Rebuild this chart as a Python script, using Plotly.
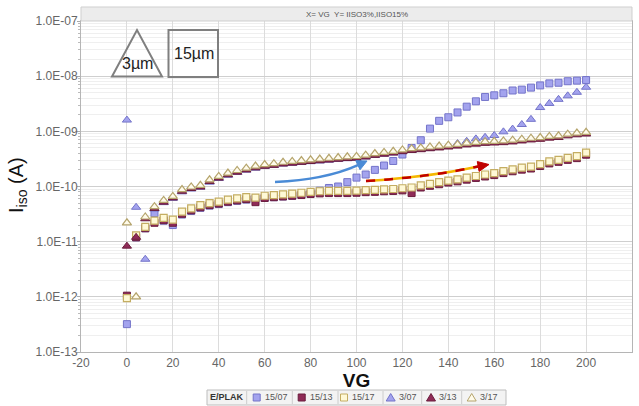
import plotly.graph_objects as go

# ---------------- data ----------------
vg = [0, 4, 8, 12, 16, 20, 24, 28, 32, 36, 40, 44, 48, 52, 56, 60, 64, 68, 72, 76,
      80, 84, 88, 92, 96, 100, 104, 108, 112, 116, 120, 124, 128, 132, 136, 140, 144,
      148, 152, 156, 160, 164, 168, 172, 176, 180, 184, 188, 192, 196, 200]

s15_07 = [3.2e-13, 1.2e-11, 1.75e-11, 3.3e-11, 2.4e-11, 2.0e-11, 3.1e-11, 3.6e-11, 4.1e-11,
          4.5e-11, 4.8e-11, 5.2e-11, 5.5e-11, 5.8e-11, 6.0e-11, 6.2e-11, 6.4e-11, 6.6e-11,
          6.8e-11, 7.2e-11, 7.6e-11, 8.4e-11, 9.4e-11, 1.0e-10, 1.2e-10, 1.45e-10, 1.65e-10,
          2.0e-10, 2.4e-10, 2.9e-10, 3.8e-10, 5.0e-10, 6.9e-10, 1.12e-9, 1.55e-9, 1.8e-9,
          2.2e-9, 2.8e-9, 3.5e-9, 4.2e-9, 4.5e-9, 4.9e-9, 5.5e-9, 5.7e-9, 6.2e-9, 6.8e-9,
          7.4e-9, 7.6e-9, 8.1e-9, 8.3e-9, 8.5e-9]

s15_13 = [1.05e-12, 1.2e-11, 1.75e-11, 2.2e-11, 2.45e-11, 2.2e-11, 3.2e-11, 3.7e-11, 4.2e-11,
          4.6e-11, 4.9e-11, 5.3e-11, 5.6e-11, 5.9e-11, 5.2e-11, 6.2e-11, 6.4e-11, 6.6e-11,
          6.8e-11, 7.0e-11, 7.3e-11, 7.5e-11, 7.6e-11, 7.6e-11, 7.6e-11, 7.7e-11, 7.9e-11,
          8.0e-11, 8.2e-11, 8.3e-11, 8.5e-11, 7.6e-11, 9.6e-11, 1.03e-10, 1.1e-10, 1.18e-10,
          1.24e-10, 1.33e-10, 1.43e-10, 1.52e-10, 1.61e-10, 1.75e-10, 1.89e-10, 2.02e-10,
          2.12e-10, 2.35e-10, 2.62e-10, 2.8e-10, 3.04e-10, 3.27e-10, 3.77e-10]

s15_17 = [0.95e-12, 1.3e-11, 1.85e-11, 2.4e-11, 2.7e-11, 2.5e-11, 3.5e-11, 4.0e-11, 4.6e-11,
          5.0e-11, 5.3e-11, 5.8e-11, 6.1e-11, 6.4e-11, 6.3e-11, 6.8e-11, 7.0e-11, 7.2e-11,
          7.4e-11, 7.7e-11, 8.0e-11, 8.2e-11, 8.3e-11, 8.3e-11, 8.3e-11, 8.4e-11, 8.6e-11,
          8.7e-11, 8.9e-11, 9.0e-11, 9.3e-11, 9.6e-11, 1.05e-10, 1.12e-10, 1.2e-10, 1.28e-10,
          1.35e-10, 1.45e-10, 1.55e-10, 1.65e-10, 1.75e-10, 1.9e-10, 2.05e-10, 2.2e-10,
          2.3e-10, 2.55e-10, 2.85e-10, 3.05e-10, 3.3e-10, 3.55e-10, 4.1e-10]

s3_07 = [1.6e-9, 4.2e-11, 4.8e-12, 3.9e-11, 5.1e-11, 6.1e-11, 8.0e-11, 9.0e-11, 9.7e-11,
         1.2e-10, 1.4e-10, 1.6e-10, 1.8e-10, 1.98e-10, 2.15e-10, 2.3e-10, 2.4e-10, 2.55e-10,
         2.63e-10, 2.72e-10, 2.82e-10, 2.9e-10, 3.0e-10, 3.1e-10, 3.2e-10, 3.25e-10, 3.42e-10,
         3.65e-10, 3.85e-10, 4.05e-10, 4.3e-10, 4.5e-10, 4.7e-10, 4.9e-10, 5.1e-10, 5.5e-10,
         6.0e-10, 6.6e-10, 7.3e-10, 7.8e-10, 8.4e-10, 9.8e-10, 1.1e-9, 1.33e-9, 1.65e-9,
         2.7e-9, 3.2e-9, 3.8e-9, 4.4e-9, 5.1e-9, 6.3e-9]

s3_13 = [8.3e-12, 1.2e-11, 2.6e-11, 4.0e-11, 5.2e-11, 6.2e-11, 8.2e-11, 9.2e-11, 9.8e-11,
         1.23e-10, 1.42e-10, 1.63e-10, 1.82e-10, 2.0e-10, 2.18e-10, 2.33e-10, 2.42e-10,
         2.56e-10, 2.65e-10, 2.74e-10, 2.84e-10, 2.93e-10, 3.02e-10, 3.12e-10, 3.21e-10,
         3.26e-10, 3.44e-10, 3.67e-10, 3.86e-10, 4.05e-10, 4.28e-10, 4.5e-10, 4.65e-10,
         4.84e-10, 5.0e-10, 5.2e-10, 5.4e-10, 5.67e-10, 5.86e-10, 6.05e-10, 6.14e-10,
         6.23e-10, 6.42e-10, 6.7e-10, 6.98e-10, 7.16e-10, 7.53e-10, 7.72e-10, 8.28e-10,
         8.65e-10, 8.93e-10]

s3_17 = [2.2e-11, 1.0e-12, 2.8e-11, 4.3e-11, 5.6e-11, 6.6e-11, 8.8e-11, 9.8e-11, 1.05e-10,
         1.32e-10, 1.52e-10, 1.75e-10, 1.95e-10, 2.15e-10, 2.35e-10, 2.5e-10, 2.6e-10,
         2.75e-10, 2.85e-10, 2.95e-10, 3.05e-10, 3.15e-10, 3.25e-10, 3.35e-10, 3.45e-10,
         3.5e-10, 3.7e-10, 3.95e-10, 4.15e-10, 4.35e-10, 4.6e-10, 4.85e-10, 5.0e-10, 5.2e-10,
         5.4e-10, 5.6e-10, 5.8e-10, 6.1e-10, 6.3e-10, 6.5e-10, 6.6e-10, 6.7e-10, 6.9e-10,
         7.2e-10, 7.5e-10, 7.7e-10, 8.1e-10, 8.3e-10, 8.9e-10, 9.3e-10, 9.6e-10]

series_names = ["15/07", "15/13", "15/17", "3/07", "3/13", "3/17"]
x_ticks = [-20, 0, 20, 40, 60, 80, 100, 120, 140, 160, 180, 200, 220]
y_exponents = [-13, -12, -11, -10, -9, -8, -7]
y_ticklabels = ["1.0E-13", "1.0E-12", "1.0E-11", "1.0E-10", "1.0E-09", "1.0E-08", "1.0E-07"]

# ---------------- styles ----------------
FONT = "Liberation Sans, Arial, sans-serif"
styles = {
    "15/07": dict(symbol="square", size=7, color="#a3a3ee", line=dict(color="#7474c9", width=1)),
    "15/13": dict(symbol="square", size=7, color="#8f2b57", line=dict(color="#6a1c3c", width=1)),
    "15/17": dict(symbol="square", size=7, color="#fff9d6", line=dict(color="#c4ad62", width=1.2)),
    "3/07": dict(symbol="triangle-up", size=8, color="#a3a3ee", line=dict(color="#7474c9", width=1)),
    "3/13": dict(symbol="triangle-up", size=8, color="#8f2b57", line=dict(color="#6a1c3c", width=1)),
    "3/17": dict(symbol="triangle-up", size=8, color="#fffbea", line=dict(color="#b5a46c", width=1.2)),
}
data_map = {"15/07": s15_07, "15/13": s15_13, "15/17": s15_17,
            "3/07": s3_07, "3/13": s3_13, "3/17": s3_17}

fig = go.Figure()
for name in series_names:
    fig.add_trace(go.Scatter(x=vg, y=data_map[name], mode="markers", name=name,
                             marker=styles[name], showlegend=False))

# ---------------- geometry helpers (pixel -> paper) ----------------
W, H = 639, 406
PL, PR, PT, PB = 81, 632, 21, 352


def px(x):
    return (x - PL) / (PR - PL)


def py(y):
    return (PB - y) / (PB - PT)


shapes = []
annotations = []

# title band above the plot
shapes.append(dict(type="rect", xref="paper", yref="paper", x0=0, x1=1, y0=py(21), y1=py(7),
                   fillcolor="#ececec", line=dict(color="#cfcfcf", width=1), layer="above"))
annotations.append(dict(xref="paper", yref="paper", x=0.5, y=py(14), text="X= VG  Y= IISO3%,IISO15%",
                        showarrow=False, font=dict(family=FONT, size=8, color="#555555"),
                        xanchor="center", yanchor="middle"))

# triangle "3µm" and square "15µm" drawings
shapes.append(dict(type="path", xref="paper", yref="paper",
                   path=f"M {px(112)},{py(76.5)} L {px(137)},{py(30)} L {px(162)},{py(76.5)} Z",
                   line=dict(color="#7f7f7f", width=2), fillcolor="rgba(255,255,255,0)"))
annotations.append(dict(xref="paper", yref="paper", x=px(137.5), y=py(63), text="3µm", showarrow=False,
                        font=dict(family=FONT, size=16, color="#222222"), xanchor="center", yanchor="middle"))
shapes.append(dict(type="rect", xref="paper", yref="paper", x0=px(168.5), x1=px(218), y0=py(77), y1=py(30),
                   line=dict(color="#7f7f7f", width=2), fillcolor="rgba(255,255,255,0)"))
annotations.append(dict(xref="paper", yref="paper", x=px(194), y=py(54), text="15µm", showarrow=False,
                        font=dict(family=FONT, size=16, color="#222222"), xanchor="center", yanchor="middle"))


def arrow_head(tip, back, length, half, color):
    import math
    dx, dy = tip[0] - back[0], tip[1] - back[1]
    n = math.hypot(dx, dy)
    ux, uy = dx / n, dy / n
    bx, by = tip[0] - ux * length, tip[1] - uy * length
    p1 = (bx - uy * half, by + ux * half)
    p2 = (bx + uy * half, by - ux * half)
    path = (f"M {px(tip[0])},{py(tip[1])} L {px(p1[0])},{py(p1[1])} "
            f"L {px(p2[0])},{py(p2[1])} Z")
    return dict(type="path", xref="paper", yref="paper", path=path,
                fillcolor=color, line=dict(color=color, width=1)), (bx, by)


# blue curved arrow
head, base = arrow_head((367, 161), (352, 168), 10, 5, "#4a8bd6")
shapes.append(dict(type="path", xref="paper", yref="paper",
                   path=f"M {px(275)},{py(182)} Q {px(325)},{py(180)} {px(base[0])},{py(base[1])}",
                   line=dict(color="#4a8bd6", width=2.5)))
shapes.append(head)

# red dashed arrow (with yellow under-stroke)
head2, base2 = arrow_head((489, 164.5), (470, 168), 11, 5, "#c00000")
red_path = f"M {px(366)},{py(181)} Q {px(430)},{py(177)} {px(base2[0])},{py(base2[1])}"
shapes.append(dict(type="path", xref="paper", yref="paper", path=red_path,
                   line=dict(color="#f5b800", width=2.5)))
shapes.append(dict(type="path", xref="paper", yref="paper", path=red_path,
                   line=dict(color="#c00000", width=2.5, dash="dash")))
shapes.append(head2)

# ---------------- custom legend box ----------------
LY0, LY1 = 390, 405
shapes.append(dict(type="rect", xref="paper", yref="paper", x0=px(207), x1=px(506), y0=py(LY1), y1=py(LY0),
                   fillcolor="#f3f3f3", line=dict(color="#bdbdbd", width=1), layer="above"))
annotations.append(dict(xref="paper", yref="paper", x=px(227), y=py(397.5), text="<b>E/PLAK</b>",
                        showarrow=False, font=dict(family=FONT, size=9, color="#333333"),
                        xanchor="center", yanchor="middle"))
for sx in [246.7, 292.3, 338, 383, 421.7, 461.7]:
    shapes.append(dict(type="line", xref="paper", yref="paper", x0=px(sx), x1=px(sx),
                       y0=py(LY1 - 1), y1=py(LY0 + 1), line=dict(color="#cccccc", width=1), layer="above"))
marker_x = [256.7, 301.7, 344, 390.7, 431, 471.7]
for name, mx in zip(series_names, marker_x):
    st = styles[name]
    cy = 397.5
    if st["symbol"] == "square":
        shapes.append(dict(type="rect", xref="paper", yref="paper", x0=px(mx - 3.5), x1=px(mx + 3.5),
                           y0=py(cy + 3.5), y1=py(cy - 3.5), fillcolor=st["color"],
                           line=dict(color=st["line"]["color"], width=1), layer="above"))
    else:
        shapes.append(dict(type="path", xref="paper", yref="paper",
                           path=f"M {px(mx - 4.5)},{py(cy + 3.5)} L {px(mx)},{py(cy - 4)} "
                                f"L {px(mx + 4.5)},{py(cy + 3.5)} Z",
                           fillcolor=st["color"], line=dict(color=st["line"]["color"], width=1), layer="above"))
    annotations.append(dict(xref="paper", yref="paper", x=px(mx + 6), y=py(cy), text=name, showarrow=False,
                            font=dict(family=FONT, size=9, color="#555555"), xanchor="left", yanchor="middle"))

# y-axis title
annotations.append(dict(xref="paper", yref="paper", x=px(17), y=py(185), text="I<sub>iso</sub> (A)",
                        textangle=-90, showarrow=False, font=dict(family=FONT, size=20, color="#111111"),
                        xanchor="center", yanchor="middle"))

minor_vals = [m * 10.0 ** e for e in y_exponents[:-1] for m in range(2, 10)]

fig.update_layout(
    width=W, height=H,
    margin=dict(l=PL, r=W - PR, t=PT, b=H - PB, pad=0),
    paper_bgcolor="white", plot_bgcolor="white",
    font=dict(family=FONT, size=12, color="#666666"),
    shapes=shapes, annotations=annotations,
    showlegend=False,
    xaxis=dict(range=[-20, 220], tickmode="array", tickvals=x_ticks, ticktext=[str(t) for t in x_ticks],
               showgrid=True, gridcolor="#dcdcdc", gridwidth=1, zeroline=False, automargin=False,
               showline=True, linecolor="#b5b5b5", mirror=True, ticks="",
               tickfont=dict(family=FONT, size=12, color="#666666"),
               title=dict(text="<b>VG</b>", font=dict(family=FONT, size=19, color="#111111"), standoff=2)),
    yaxis=dict(type="log", range=[-13, -7], tickmode="array", automargin=False,
               tickvals=[10.0 ** e for e in y_exponents], ticktext=y_ticklabels,
               showgrid=True, gridcolor="#cfcfcf", gridwidth=1, zeroline=False,
               showline=True, linecolor="#b5b5b5", mirror=True,
               ticks="outside", ticklen=3, tickcolor="#aaaaaa", ticklabelstandoff=-3,
               tickfont=dict(family=FONT, size=12, color="#666666"),
               minor=dict(tickmode="array", tickvals=minor_vals, showgrid=True, gridcolor="#efefef",
                          ticks="outside", ticklen=2, tickcolor="#bbbbbb")),
)

fig.write_html("out.html", config={"displayModeBar": False},
               post_script="document.body.style.margin='0';document.body.style.padding='0';")
